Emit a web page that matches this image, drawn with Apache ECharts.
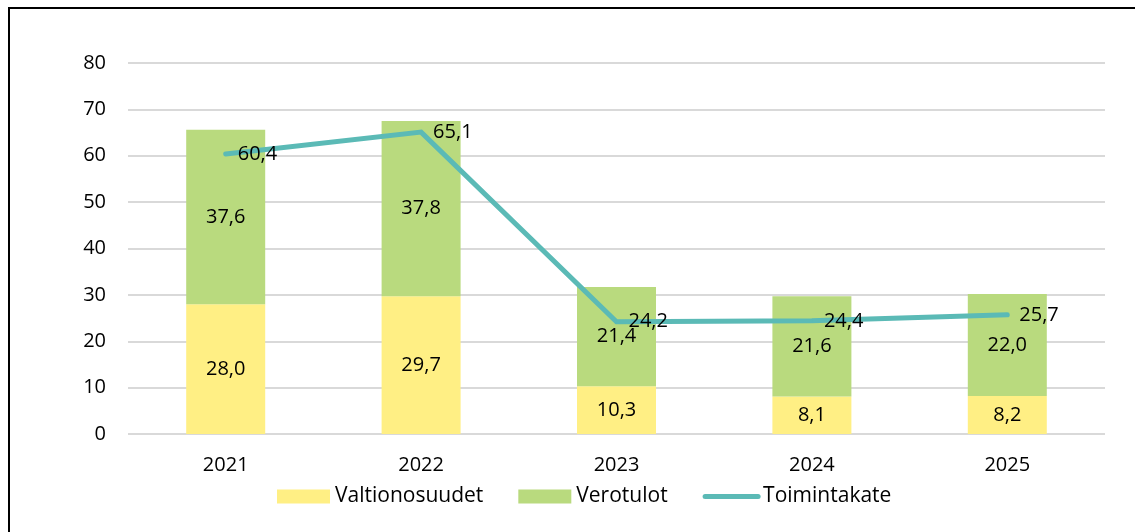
<!DOCTYPE html>
<html>
<head>
<meta charset="utf-8">
<script src="https://cdn.jsdelivr.net/npm/echarts@6/dist/echarts.min.js"></script>
<style>html,body{margin:0;padding:0;background:#fff;}#c{width:1135px;height:532px;}</style>
</head>
<body>
<div id="c"></div>
<script>
const categories = ['2021', '2022', '2023', '2024', '2025'];
const valtionosuudet = [28.0, 29.7, 10.3, 8.1, 8.2];
const verotulot = [37.6, 37.8, 21.4, 21.6, 22.0];
const toimintakate = [60.4, 65.1, 24.2, 24.4, 25.7];
const yTicks = [0, 10, 20, 30, 40, 50, 60, 70, 80];

const FONT = 'Open Sans';
const FS = 20;
const fmt = p => p.value.toFixed(1).replace('.', ',');
const chart = echarts.init(document.getElementById('c'));
chart.setOption({
  animation: false,
  textStyle: { fontFamily: FONT },
  graphic: [{
    type: 'rect', shape: { x: 9, y: 8, width: 1300, height: 700 },
    style: { fill: 'none', stroke: '#000', lineWidth: 2 }, z: 100
  }],
  grid: { left: 128, right: 30, top: 63, bottom: 98 },
  legend: {
    bottom: 20, left: 272, itemGap: 35, itemWidth: 53, itemHeight: 14,
    textStyle: { fontFamily: FONT, fontSize: 21, color: '#000' },
    data: [
      { name: 'Valtionosuudet', icon: 'rect' },
      { name: 'Verotulot', icon: 'rect' },
      { name: 'Toimintakate', itemStyle: { opacity: 0 }, lineStyle: { width: 5, cap: 'round', color: '#5BBAB6' } }
    ]
  },
  xAxis: {
    type: 'category', data: categories,
    axisLine: { show: false }, axisTick: { show: false },
    axisLabel: { fontFamily: FONT, fontSize: FS, color: '#000', margin: 21 }
  },
  yAxis: {
    type: 'value', min: yTicks[0], max: yTicks[yTicks.length - 1], interval: 10,
    axisLine: { show: false }, axisTick: { show: false },
    axisLabel: { fontFamily: FONT, fontSize: FS, color: '#000', margin: 22 },
    splitLine: { lineStyle: { color: '#d9d9d9', width: 2 } }
  },
  series: [
    {
      name: 'Valtionosuudet', type: 'bar', stack: 's', data: valtionosuudet, barWidth: 79,
      itemStyle: { color: '#FFEF84' },
      label: { show: true, position: 'inside', formatter: fmt, fontFamily: FONT, fontSize: FS, color: '#000' }
    },
    {
      name: 'Verotulot', type: 'bar', stack: 's', data: verotulot, barWidth: 79,
      itemStyle: { color: '#B9DA7E' },
      label: { show: true, position: 'inside', formatter: fmt, fontFamily: FONT, fontSize: FS, color: '#000' }
    },
    {
      name: 'Toimintakate', type: 'line', data: toimintakate, z: 5,
      symbol: 'circle', symbolSize: 2, showSymbol: true,
      lineStyle: { color: '#5BBAB6', width: 5, cap: 'round', join: 'miter' },
      itemStyle: { color: '#5BBAB6' },
      label: { show: true, position: 'right', distance: 11, formatter: fmt, fontFamily: FONT, fontSize: FS, color: '#000' }
    }
  ]
});
</script>
</body>
</html>
